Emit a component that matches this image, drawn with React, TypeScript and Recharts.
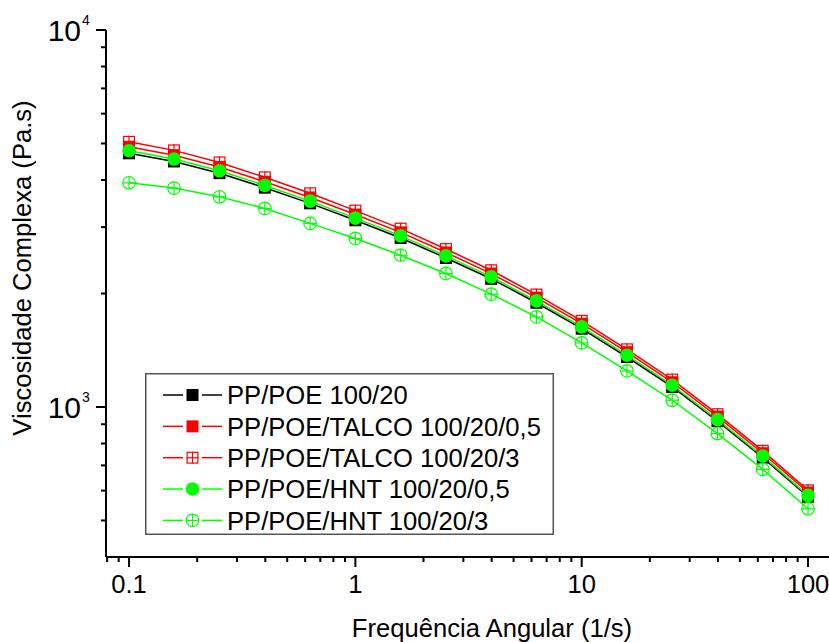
import React from 'react';
import { LineChart, Line, XAxis, YAxis, Legend } from 'recharts';

// Angular frequency (1/s)
const frequency = [0.1, 0.158, 0.251, 0.398, 0.631, 1, 1.585, 2.512, 3.981, 6.31, 10, 15.85, 25.12, 39.81, 63.1, 100];

// Complex viscosity (Pa.s)
const ppPoe = [4709, 4480, 4171, 3817, 3469, 3128, 2808, 2485, 2188, 1890, 1613, 1357, 1130, 917, 734, 578];
const talco05 = [4900, 4655, 4330, 3959, 3595, 3239, 2905, 2569, 2259, 1950, 1663, 1398, 1163, 943, 754, 593];
const talco3 = [5051, 4794, 4454, 4066, 3688, 3318, 2972, 2624, 2305, 1987, 1692, 1422, 1182, 957, 765, 601];
const hnt05 = [4781, 4546, 4231, 3870, 3516, 3169, 2844, 2516, 2214, 1912, 1631, 1372, 1142, 926, 741, 583];
const hnt3 = [3932, 3807, 3610, 3363, 3069, 2799, 2527, 2260, 1992, 1734, 1479, 1246, 1042, 850, 683, 537];

const seriesNames = [
  'PP/POE 100/20',
  'PP/POE/TALCO 100/20/0,5',
  'PP/POE/TALCO 100/20/3',
  'PP/POE/HNT 100/20/0,5',
  'PP/POE/HNT 100/20/3',
];

const xMajorTicks = [0.1, 1, 10, 100];
const xMinorTicks = [0.08, 0.09, 0.2, 0.3, 0.4, 0.5, 0.6, 0.7, 0.8, 0.9, 2, 3, 4, 5, 6, 7, 8, 9, 20, 30, 40, 50, 60, 70, 80, 90];
const yMajorTicks = [1000, 10000];
const yMajorExponents = ['3', '4'];
const yMinorTicks = [500, 600, 700, 800, 900, 2000, 3000, 4000, 5000, 6000, 7000, 8000, 9000];

const FONT = '"Liberation Sans", Arial, Helvetica, sans-serif';

type Kind = 'square' | 'squareGrid' | 'circle' | 'circlePlus';

const series: { key: string; name: string; color: string; kind: Kind; values: number[] }[] = [
  { key: 's0', name: seriesNames[0], color: '#000000', kind: 'square', values: ppPoe },
  { key: 's1', name: seriesNames[1], color: '#FF0000', kind: 'square', values: talco05 },
  { key: 's2', name: seriesNames[2], color: '#FF0000', kind: 'squareGrid', values: talco3 },
  { key: 's3', name: seriesNames[3], color: '#00FF00', kind: 'circle', values: hnt05 },
  { key: 's4', name: seriesNames[4], color: '#00FF00', kind: 'circlePlus', values: hnt3 },
];

const data = frequency.map((f, i) => {
  const row: Record<string, number> = { x: f };
  series.forEach((s) => {
    row[s.key] = s.values[i];
  });
  return row;
});

function marker(kind: Kind, color: string, cx: number, cy: number, key?: string) {
  const h = 6;
  if (kind === 'square') {
    return <rect key={key} x={cx - h} y={cy - h} width={2 * h} height={2 * h} fill={color} />;
  }
  if (kind === 'squareGrid') {
    return (
      <g key={key}>
        <rect x={cx - h + 0.6} y={cy - h + 0.6} width={2 * h - 1.2} height={2 * h - 1.2} fill="none" stroke={color} strokeWidth={1.2} />
        <line x1={cx} x2={cx} y1={cy - h} y2={cy + h} stroke={color} strokeWidth={1.2} />
        <line x1={cx - h} x2={cx + h} y1={cy} y2={cy} stroke={color} strokeWidth={1.2} />
      </g>
    );
  }
  if (kind === 'circle') {
    return <circle key={key} cx={cx} cy={cy} r={6.8} fill={color} />;
  }
  const r = 6.3;
  return (
    <g key={key}>
      <circle cx={cx} cy={cy} r={r} fill="none" stroke={color} strokeWidth={1.2} />
      <line x1={cx} x2={cx} y1={cy - r} y2={cy + r} stroke={color} strokeWidth={1.2} />
      <line x1={cx - r} x2={cx + r} y1={cy} y2={cy} stroke={color} strokeWidth={1.2} />
    </g>
  );
}

const XTick = (props: any) => {
  const { x, y, payload } = props;
  const v = payload.value;
  const major = xMajorTicks.includes(v);
  return (
    <g>
      <line x1={x} x2={x} y1={y} y2={y + (major ? 10 : 5)} stroke="#000" strokeWidth={2} />
      {major && (
        <text x={x} y={y + 36} textAnchor="middle" fontSize={25.6} fontFamily={FONT} fill="#000">
          {String(v)}
        </text>
      )}
    </g>
  );
};

const YTick = (props: any) => {
  const { x, y, payload } = props;
  const v = payload.value;
  const idx = yMajorTicks.indexOf(v);
  const major = idx >= 0;
  return (
    <g>
      <line x1={x} x2={x - (major ? 10 : 5)} y1={y} y2={y} stroke="#000" strokeWidth={2} />
      {major && (
        <g>
          <text x={81} y={y + 11} textAnchor="end" fontSize={30} fontFamily={FONT} fill="#000">
            10
          </text>
          <text x={82} y={y - 5} textAnchor="start" fontSize={14} fontFamily={FONT} fill="#000">
            {yMajorExponents[idx]}
          </text>
        </g>
      )}
    </g>
  );
};

const LegendBox = () => {
  const w = 409;
  const h = 162;
  return (
    <svg width={w} height={h} style={{ display: 'block' }}>
      <rect x={0.75} y={0.75} width={w - 1.5} height={h - 1.5} fill="#fff" stroke="#555" strokeWidth={1.5} />
      {series.map((s, i) => {
        const cy = 22 + i * 31.35;
        return (
          <g key={s.key}>
            <line x1={18} x2={38} y1={cy} y2={cy} stroke={s.color} strokeWidth={1.5} />
            <line x1={57} x2={77} y1={cy} y2={cy} stroke={s.color} strokeWidth={1.5} />
            {marker(s.kind, s.color, 47.5, cy)}
            <text x={82} y={cy + 9.2} fontSize={25.6} fontFamily={FONT} fill="#000">
              {s.name}
            </text>
          </g>
        );
      })}
    </svg>
  );
};

export default function App() {
  return (
    <div style={{ position: 'absolute', left: 0, top: 0, background: '#fff' }}>
      <LineChart width={829} height={642} data={data} margin={{ top: 30, right: 0, bottom: 0, left: 0 }}>
        <XAxis
          dataKey="x"
          type="number"
          scale="log"
          domain={[0.0791, 123.8]}
          allowDataOverflow
          ticks={[...xMinorTicks, ...xMajorTicks].sort((a, b) => a - b)}
          interval={0}
          tickSize={0}
          tickMargin={0}
          tickLine={false}
          tick={<XTick />}
          height={85}
          axisLine={{ stroke: '#000', strokeWidth: 2 }}
          label={{
            content: () => (
              <text x={492} y={637} textAnchor="middle" fontSize={25.6} fontFamily={FONT} fill="#000">
                Frequência Angular (1/s)
              </text>
            ),
          }}
        />
        <YAxis
          type="number"
          scale="log"
          domain={[400, 10000]}
          allowDataOverflow
          ticks={[...yMinorTicks, ...yMajorTicks].sort((a, b) => a - b)}
          interval={0}
          tickSize={0}
          tickMargin={0}
          tickLine={false}
          tick={<YTick />}
          width={106}
          axisLine={{ stroke: '#000', strokeWidth: 2 }}
          label={{
            content: () => (
              <text
                x={22}
                y={268}
                transform="rotate(-90 22 268)"
                textAnchor="middle"
                dominantBaseline="central"
                fontSize={25.6}
                fontFamily={FONT}
                fill="#000"
              >
                Viscosidade Complexa (Pa.s)
              </text>
            ),
          }}
        />
        <Legend
          layout="horizontal"
          verticalAlign="middle"
          align="center"
          width={409}
          height={162}
          wrapperStyle={{ left: 145, top: 373, width: 409, height: 162 }}
          content={() => <LegendBox />}
        />
        {series.map((s) => (
          <Line
            key={s.key}
            dataKey={s.key}
            name={s.name}
            stroke={s.color}
            strokeWidth={1.5}
            isAnimationActive={false}
            activeDot={false}
            dot={(p: any) => marker(s.kind, s.color, p.cx, p.cy, `${s.key}-${p.index}`)}
          />
        ))}
      </LineChart>
    </div>
  );
}
